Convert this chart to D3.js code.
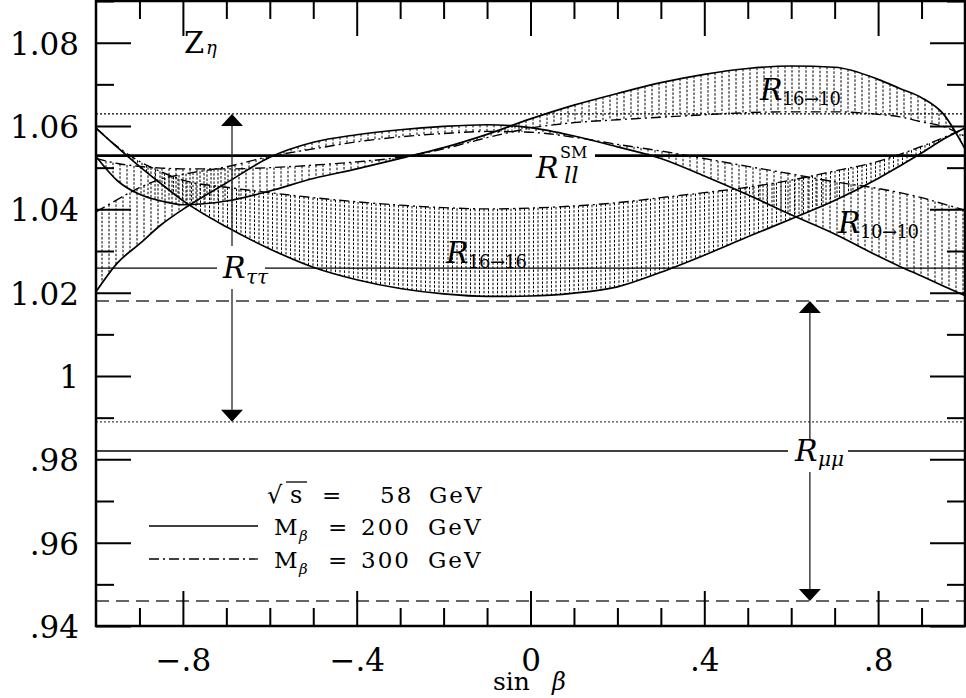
<!DOCTYPE html>
<html><head><meta charset="utf-8">
<script src="https://cdn.jsdelivr.net/npm/d3@7"></script>
<style>body{margin:0;background:#fff} svg{display:block}</style>
</head><body><svg id="c" width="966" height="698"></svg>
<script>
// ---------- data ----------
const xGrid = [-1, -0.95, -0.9, -0.85, -0.8, -0.7, -0.6, -0.5, -0.4, -0.3, -0.2, -0.1, 0, 0.1, 0.2, 0.3, 0.4, 0.5, 0.6, 0.7, 0.8, 0.85, 0.9, 0.95, 1];
// R 16->16
const r1616_M200 = [1.0595,1.0548,1.0503,1.0461,1.0421,1.0358,1.0305,1.0261,1.0231,1.0210,1.0197,1.0191,1.0192,1.0199,1.0214,1.0249,1.0290,1.0334,1.0377,1.0421,1.0474,1.0504,1.0535,1.0568,1.0595];
const r1616_M300 = [1.0595,1.0550,1.0515,1.0490,1.0470,1.0453,1.0440,1.0428,1.0418,1.0410,1.0404,1.0401,1.0403,1.0408,1.0416,1.0428,1.0440,1.0453,1.0470,1.0492,1.0515,1.0532,1.0551,1.0572,1.0595];
// R 16->10
const r1610_M200 = [1.0527,1.0468,1.0436,1.0420,1.0411,1.0420,1.0444,1.0474,1.0497,1.0522,1.0548,1.0580,1.0617,1.0650,1.0678,1.0704,1.0724,1.0738,1.0744,1.0741,1.0712,1.0690,1.0668,1.0629,1.0545];
const r1610_M300 = [1.0522,1.0510,1.0503,1.0499,1.0497,1.0497,1.0500,1.0506,1.0514,1.0525,1.0545,1.0572,1.0595,1.0608,1.0615,1.0621,1.0627,1.0632,1.0634,1.0634,1.0628,1.0622,1.0610,1.0599,1.0575];
// R 10->10
const r1010_M200 = [1.0202,1.0272,1.0317,1.0363,1.0400,1.0463,1.0525,1.0561,1.0579,1.0591,1.0599,1.0603,1.0596,1.0576,1.0550,1.0522,1.0480,1.0435,1.0387,1.0341,1.0288,1.0263,1.0240,1.0216,1.0193];
const r1010_M300 = [1.0394,1.0424,1.0452,1.0473,1.0484,1.0502,1.0527,1.0545,1.0562,1.0574,1.0582,1.0587,1.0585,1.0573,1.0556,1.0540,1.0522,1.0503,1.0485,1.0466,1.0450,1.0440,1.0428,1.0413,1.0398];
// measured ratios
const rllSM = 1.0529;
const rTauTau = [0.989, 1.0259, 1.0629];   // low, central, high
const rMuMu = [0.946, 0.982, 1.018];
const arrowX = [-0.687, 0.643];            // tau, mu
// ticks
const yMajor = [0.94, 0.96, 0.98, 1.00, 1.02, 1.04, 1.06, 1.08];
const yTickLabels = [".94", ".96", ".98", "1", "1.02", "1.04", "1.06", "1.08"];
const yMinor = [0.95, 0.97, 0.99, 1.01, 1.03, 1.05, 1.07, 1.09];
const xMajor = [-0.8, -0.4, 0, 0.4, 0.8];
const xTickLabels = ["\u2212.8", "\u2212.4", "0", ".4", ".8"];
const xMinor = [-0.9, -0.7, -0.6, -0.5, -0.3, -0.2, -0.1, 0.1, 0.2, 0.3, 0.5, 0.6, 0.7, 0.9];

// ---------- drawing ----------
const svg = d3.select("#c");
const FONT = "'DejaVu Serif', serif";
const x = d3.scaleLinear().domain([-1, 1]).range([96, 965]);
const y = d3.scaleLinear().domain([0.94, 1.09]).range([626, 1]);

svg.append("defs").append("clipPath").attr("id", "clip")
  .append("rect").attr("x", 96).attr("y", 1).attr("width", 869).attr("height", 625);

const plot = svg.append("g").attr("clip-path", "url(#clip)");
const hatchG = plot.append("g");
const curveG = plot.append("g");

const line = d3.line().x((d, i) => x(xGrid[i])).y(d => y(d)).curve(d3.curveMonotoneX);

const bands = [
  {lo: r1616_M200, hi: r1616_M300, step: 4.5, off: 1},
  {lo: r1610_M200, hi: r1610_M300, step: 7, off: 3},
  {lo: r1010_M200, hi: r1010_M300, step: 7, off: 6}
];

function sampler(node) {
  const L = node.getTotalLength(), pts = [];
  for (let l = 0; l <= L; l += 1) pts.push(node.getPointAtLength(l));
  pts.push(node.getPointAtLength(L));
  return px => {
    let lo = 0, hi = pts.length - 1;
    if (px <= pts[0].x) return pts[0].y;
    if (px >= pts[hi].x) return pts[hi].y;
    while (hi - lo > 1) { const m = (lo + hi) >> 1; if (pts[m].x < px) lo = m; else hi = m; }
    const a = pts[lo], b = pts[hi];
    return a.y + (px - a.x) / ((b.x - a.x) || 1) * (b.y - a.y);
  };
}

bands.forEach(b => {
  const pLo = curveG.append("path").attr("d", line(b.lo)).attr("fill", "none")
    .attr("stroke", "#000").attr("stroke-width", 1.7);
  const pHi = curveG.append("path").attr("d", line(b.hi)).attr("fill", "none")
    .attr("stroke", "#000").attr("stroke-width", 1.4).attr("stroke-dasharray", "10,4,2,4");
  const fLo = sampler(pLo.node()), fHi = sampler(pHi.node());
  for (let px = x(-1) + b.off; px <= x(1); px += b.step) {
    const a = fLo(px), c = fHi(px);
    if (Math.abs(a - c) < 1.5) continue;
    hatchG.append("line").attr("x1", px).attr("x2", px).attr("y1", Math.min(a, c)).attr("y2", Math.max(a, c))
      .attr("stroke", "#000").attr("stroke-width", 1).attr("stroke-dasharray", "2.5,1.6");
  }
});

// horizontal reference lines
function hline(v, x0, x1, w, dash, col) {
  plot.append("line").attr("x1", x0).attr("x2", x1).attr("y1", y(v)).attr("y2", y(v))
    .attr("stroke", col || "#000").attr("stroke-width", w).attr("stroke-dasharray", dash || null);
}
hline(rTauTau[2], x(-1), x(1), 1.2, "2,2");
hline(rTauTau[0], x(-1), x(1), 1.2, "2,2", "#444");
hline(rMuMu[2], x(-1), x(1), 1.3, "13,7", "#333");
hline(rMuMu[0], x(-1), x(1), 1.3, "13,7", "#333");
hline(rllSM, x(-1), 532, 2.6); hline(rllSM, 595, x(1), 2.6);
hline(rTauTau[1], x(-1), 217, 1.3); hline(rTauTau[1], 265, x(1), 1.3);
hline(rMuMu[1], x(-1), 788, 1.3); hline(rMuMu[1], 848, x(1), 1.3);

// arrows
function arrow(xv, yStart, vTip, dir) {
  const px = x(xv), tip = y(vTip), base = tip + dir * 12;
  svg.append("line").attr("x1", px).attr("x2", px).attr("y1", yStart).attr("y2", base)
    .attr("stroke", "#222").attr("stroke-width", 1.3);
  svg.append("path").attr("d", `M${px},${tip}L${px - 11},${base}L${px + 11},${base}Z`).attr("fill", "#000");
}
arrow(arrowX[0], 246, rTauTau[2], 1);
arrow(arrowX[0], 289, rTauTau[0], -1);
arrow(arrowX[1], 440, rMuMu[2], 1);
arrow(arrowX[1], 472, rMuMu[0], -1);

// frame
svg.append("rect").attr("x", 96).attr("y", 1).attr("width", 869).attr("height", 625)
  .attr("fill", "none").attr("stroke", "#000").attr("stroke-width", 2.5);

// axes (inward ticks, all four sides)
function styleAx(g) {
  g.select(".domain").remove();
  g.selectAll(".tick line").attr("stroke", "#000").attr("stroke-width", 2);
  g.selectAll("text").attr("font-family", FONT).attr("font-size", 31).attr("fill", "#000");
}
svg.append("g").attr("transform", "translate(96,0)")
  .call(d3.axisLeft(y).tickValues(yMajor).tickSize(-35).tickPadding(17).tickFormat((d, i) => yTickLabels[i]))
  .call(styleAx).selectAll("text").attr("dy", "0.37em");
svg.append("g").attr("transform", "translate(96,0)")
  .call(d3.axisLeft(y).tickValues(yMinor).tickSize(-18).tickFormat("")).call(styleAx);
svg.append("g").attr("transform", "translate(965,0)")
  .call(d3.axisRight(y).tickValues(yMajor).tickSize(-35).tickFormat("")).call(styleAx);
svg.append("g").attr("transform", "translate(965,0)")
  .call(d3.axisRight(y).tickValues(yMinor).tickSize(-18).tickFormat("")).call(styleAx);
svg.append("g").attr("transform", "translate(0,626)")
  .call(d3.axisBottom(x).tickValues(xMajor).tickSize(-35).tickPadding(23).tickFormat((d, i) => xTickLabels[i]))
  .call(styleAx);
svg.append("g").attr("transform", "translate(0,626)")
  .call(d3.axisBottom(x).tickValues(xMinor).tickSize(-18).tickFormat("")).call(styleAx);
svg.append("g").attr("transform", "translate(0,1)")
  .call(d3.axisTop(x).tickValues(xMajor).tickSize(-35).tickFormat("")).call(styleAx);
svg.append("g").attr("transform", "translate(0,1)")
  .call(d3.axisTop(x).tickValues(xMinor).tickSize(-18).tickFormat("")).call(styleAx);

// text helper
function txt(s, px, py, size, opts) {
  opts = opts || {};
  return svg.append("text").attr("x", px).attr("y", py).text(s)
    .attr("font-family", opts.font || FONT).attr("font-size", size).attr("fill", "#000")
    .attr("font-style", opts.italic ? "italic" : "normal")
    .attr("font-weight", opts.bold ? "bold" : "normal")
    .attr("text-anchor", opts.anchor || "start")
    .attr("letter-spacing", opts.ls || 0);
}
// axis title
txt("sin", 493, 690, 25);
txt("\u03B2", 552, 690, 24, {italic: true});
txt("Z", 184, 53, 29);
txt("\u03B7", 206, 54, 18, {italic: true});

// band labels
function rlab(px, py, sub) {
  txt("R", px, py, 30, {italic: true});
  txt(sub, px + 22, py + 5, 18, {ls: -0.5});
}
rlab(760, 100, "16\u219210");
rlab(446, 263, "16\u219216");
rlab(838, 233, "10\u219210");
txt("R", 536, 178, 30, {italic: true});
txt("SM", 560, 158, 16);
txt("ll", 564, 183, 23, {italic: true});
txt("R", 223, 278, 30, {italic: true});
txt("\u03C4\u03C4", 246, 284, 20, {italic: true});
txt("R", 795, 461, 30, {italic: true});
txt("\u03BC\u03BC", 818, 466, 20, {italic: true});

// legend
svg.append("line").attr("x1", 149).attr("x2", 258).attr("y1", 526).attr("y2", 526)
  .attr("stroke", "#000").attr("stroke-width", 1.6);
svg.append("line").attr("x1", 149).attr("x2", 258).attr("y1", 559).attr("y2", 559)
  .attr("stroke", "#000").attr("stroke-width", 1.3).attr("stroke-dasharray", "10,4,2,4");
txt("\u221A", 267, 503, 24);
svg.append("line").attr("x1", 286).attr("x2", 307).attr("y1", 482).attr("y2", 482).attr("stroke", "#000").attr("stroke-width", 1.3);
txt("s", 290, 503, 24);
txt("=", 322, 503, 23);
txt("58", 380, 503, 23, {ls: 2});
txt("GeV", 429, 503, 23, {ls: 2});
[["200", 535], ["300", 568]].forEach(([v, by]) => {
  txt("M", 274, by, 23);
  txt("\u03B2", 299, by + 6, 15, {italic: true});
  txt("=", 328, by, 23);
  txt(v, 361, by, 23, {ls: 2});
  txt("GeV", 428, by, 23, {ls: 2});
});
</script></body></html>
